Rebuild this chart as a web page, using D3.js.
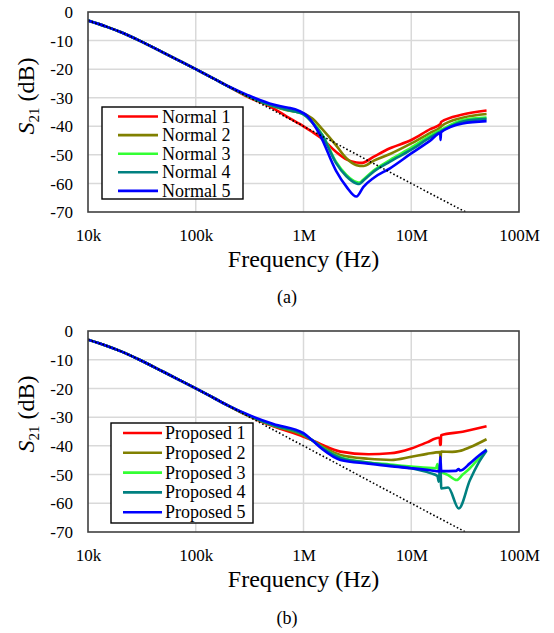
<!DOCTYPE html>
<html>
<head>
<meta charset="utf-8">
<script src="https://cdn.jsdelivr.net/npm/d3@7"></script>
<style>
  html, body { margin: 0; padding: 0; background: #fff; }
</style>
</head>
<body>
<svg id="chart" width="554" height="633"></svg>
<script>
// ---------- DATA (frequency in Hz, S21 in dB) ----------
const xTickValues = [1e4, 1e5, 1e6, 1e7, 1e8];
const xTickLabels = ["10k", "100k", "1M", "10M", "100M"];
const yTickValues = [0, -10, -20, -30, -40, -50, -60, -70];

// shared low-frequency part (all curves overlap here)
const commonLow = [[1e4,-3],[1.5e4,-5.2],[2e4,-7],[3e4,-10],[5e4,-14.2],[7e4,-17],[1e5,-20],[1.5e5,-23.5],[2e5,-26]];

// dotted reference line
const refLine = [[1e4,-3],[2e4,-7],[3e4,-10],[5e4,-14.2],[1e5,-20],[2e5,-26],[5e5,-34],[1e6,-40],[2e6,-46],[5e6,-54],[1e7,-60],[2e7,-66],[3.2e7,-70]];

// (a) Normal
const normalNames = ["Normal 1", "Normal 2", "Normal 3", "Normal 4", "Normal 5"];
const normal1 = [[3e5,-29.6],[5.25e5,-33.7],[7e5,-36.6],[1e6,-40],[1.2e6,-41.9],[1.5e6,-44.5],[2e6,-48.9],[2.5e6,-51.6],[3.1e6,-52.7],[3.5e6,-52.8],[4.5e6,-50.6],[6.35e6,-47.7],[1e7,-44.8],[1.5e7,-41],[1.87e7,-39.2],[1.89e7,-38.5],[3e7,-35.9],[5e7,-34.5]];
const normal2 = [[3e5,-29.4],[5.25e5,-33.0],[7e5,-34.4],[1e6,-35.5],[1.2e6,-37.2],[1.5e6,-41.1],[2e6,-46.6],[2.5e6,-51.2],[3.1e6,-53.6],[3.6e6,-53.9],[4.5e6,-52],[6.35e6,-49.7],[1e7,-46],[1.5e7,-42.3],[1.88e7,-40.2],[1.9e7,-40],[3e7,-37],[5e7,-35.7]];
const normal3 = [[3e5,-29.3],[5.25e5,-32.9],[7e5,-34.2],[1e6,-35.8],[1.2e6,-38.4],[1.5e6,-43],[2e6,-52.4],[2.5e6,-57],[3.1e6,-59.5],[3.3e6,-59.7],[3.6e6,-58.6],[4.5e6,-55.4],[6.35e6,-51.8],[1e7,-47.5],[1.5e7,-43.3],[1.88e7,-41.3],[3e7,-37.8],[5e7,-36.9]];
const normal4 = [[3e5,-29.3],[5.25e5,-32.9],[7e5,-34.2],[1e6,-35.8],[1.2e6,-38.6],[1.5e6,-43.3],[2e6,-52.8],[2.5e6,-57.5],[3.1e6,-60],[3.3e6,-60.2],[3.6e6,-59],[4.5e6,-55.8],[6.35e6,-52.4],[1e7,-48.2],[1.5e7,-43.9],[1.88e7,-41.8],[3e7,-38.3],[5e7,-37.4]];
const normal5 = [[3e5,-29.0],[5.25e5,-32.4],[7e5,-33.4],[9e5,-34.5],[1.1e6,-36.6],[1.42e6,-43],[2e6,-55.5],[2.5e6,-61.1],[3.1e6,-64.6],[3.6e6,-61.2],[4.5e6,-58],[6.35e6,-54.7],[1e7,-49.5],[1.5e7,-45],[1.86e7,-42.4],[1.87e7,-44.8],[1.89e7,-42.1],[3e7,-39],[5e7,-38.2]];

// (b) Proposed
const proposedNames = ["Proposed 1", "Proposed 2", "Proposed 3", "Proposed 4", "Proposed 5"];
const proposed1 = [[3e5,-29.4],[5.25e5,-33.2],[1e6,-36.8],[1.2e6,-38],[1.5e6,-39.7],[2.2e6,-42],[4e6,-42.9],[6.35e6,-42.6],[1e7,-40.9],[1.4e7,-38.8],[1.8e7,-37.2],[1.84e7,-37.4],[1.85e7,-39.7],[1.88e7,-39.5],[1.89e7,-36.3],[3e7,-35.1],[5e7,-33.2]];
const proposed2 = [[3e5,-29.3],[5.25e5,-33],[1e6,-36.3],[1.2e6,-38],[1.5e6,-40.3],[2.2e6,-43.2],[4e6,-44.5],[6.5e6,-44.9],[1e7,-43.8],[1.4e7,-42.8],[1.85e7,-42.2],[1.87e7,-45.5],[1.89e7,-42],[2.4e7,-42.1],[2.8e7,-41.8],[3.5e7,-40.5],[5e7,-37.7]];
const proposed3 = [[3e5,-29.2],[5.25e5,-32.8],[1e6,-36],[1.2e6,-38],[1.5e6,-40.7],[2.2e6,-44],[4e6,-45.8],[6.35e6,-46.5],[1e7,-47.2],[1.7e7,-47.8],[1.75e7,-46.3],[1.78e7,-48],[1.9e7,-49],[2.2e7,-50.2],[2.64e7,-51.9],[3e7,-50],[3.5e7,-47.8],[4.2e7,-44.5],[5e7,-41.2]];
const proposed4 = [[3e5,-29.2],[5.25e5,-32.8],[1e6,-36],[1.2e6,-38],[1.5e6,-40.8],[2.2e6,-44.2],[4e6,-45.9],[6.35e6,-46.8],[1e7,-47.8],[1.5e7,-49.5],[1.75e7,-50.5],[1.8e7,-52.5],[1.86e7,-46],[1.9e7,-54.8],[2.2e7,-54.5],[2.76e7,-61.8],[3.5e7,-52],[4.2e7,-46],[5e7,-41.7]];
const proposed5 = [[3e5,-29.0],[5.25e5,-32.4],[1e6,-35.6],[1.2e6,-38],[1.5e6,-41.2],[2.2e6,-44.9],[4e6,-46.2],[6.35e6,-47.1],[1e7,-47.8],[1.5e7,-48.5],[1.83e7,-48.9],[1.86e7,-43.8],[1.9e7,-48.8],[2.6e7,-48.7],[2.75e7,-48.1],[2.85e7,-48.6],[3.5e7,-46.1],[4.2e7,-43.5],[5e7,-41.4]];

const seriesColors = ["#ff0000", "#808000", "#33ff33", "#008080", "#0000ff"];
const FONT = "Liberation Serif";

// ---------- DRAW ----------
const svg = d3.select("#chart").attr("font-family", FONT);
svg.append("rect").attr("width", 554).attr("height", 633).attr("fill", "#fff");

const plotLeft = 88, plotRight = 519;

function drawPanel(opts) {
  const { top, height, series, names, legend, caption, captionText, titleY } = opts;
  const x = d3.scaleLog().domain([1e4, 1e8]).range([plotLeft, plotRight]);
  const y = d3.scaleLinear().domain([-70, 0]).range([top + height, top]);
  const g = svg.append("g").attr("font-family", FONT);

  // grid
  g.append("g").selectAll("line").data(xTickValues.slice(1, -1)).join("line")
    .attr("x1", d => x(d)).attr("x2", d => x(d))
    .attr("y1", top).attr("y2", top + height)
    .attr("stroke", "#d9d9d9").attr("stroke-width", 1.5);
  g.append("g").selectAll("line").data(yTickValues.slice(1, -1)).join("line")
    .attr("x1", plotLeft).attr("x2", plotRight)
    .attr("y1", d => y(d)).attr("y2", d => y(d))
    .attr("stroke", "#d9d9d9").attr("stroke-width", 1.5);

  // axes (labels only, no tick marks)
  const xAxis = d3.axisBottom(x).tickValues(xTickValues)
    .tickFormat((d, i) => xTickLabels[i]).tickSize(0).tickPadding(0);
  const gx = g.append("g").attr("transform", `translate(0,${top + height})`).call(xAxis)
    .attr("font-family", FONT).attr("font-size", 17);
  gx.select(".domain").remove();
  gx.selectAll("text").attr("font-family", FONT).attr("font-size", 17)
    .attr("fill", "#000").attr("dy", null).attr("y", 29);

  const yAxis = d3.axisLeft(y).tickValues(yTickValues).tickFormat(d => d === 0 ? "0" : "-" + Math.abs(d))
    .tickSize(0).tickPadding(0);
  const gy = g.append("g").attr("transform", `translate(${plotLeft},0)`).call(yAxis)
    .attr("font-family", FONT).attr("font-size", 17);
  gy.select(".domain").remove();
  gy.selectAll("text").attr("font-family", FONT).attr("font-size", 17)
    .attr("fill", "#000").attr("x", -15).attr("dy", "0.33em");

  // clip
  const clipId = "clip" + top;
  svg.append("clipPath").attr("id", clipId).append("rect")
    .attr("x", plotLeft).attr("y", top).attr("width", plotRight - plotLeft).attr("height", height);

  const line = d3.line().x(d => x(d[0])).y(d => y(d[1])).curve(d3.curveMonotoneX);
  const lines = g.append("g").attr("clip-path", `url(#${clipId})`);
  series.forEach((s, i) => {
    lines.append("path").datum(commonLow.concat(s))
      .attr("fill", "none").attr("stroke", seriesColors[i])
      .attr("stroke-width", 2.6).attr("stroke-linejoin", "round").attr("d", line);
  });
  lines.append("path").datum(refLine)
    .attr("fill", "none").attr("stroke", "#000").attr("stroke-width", 1.6)
    .attr("stroke-dasharray", "1.6,2.2").attr("d", line);

  // frame
  g.append("rect").attr("x", plotLeft).attr("y", top)
    .attr("width", plotRight - plotLeft).attr("height", height)
    .attr("fill", "none").attr("stroke", "#404040").attr("stroke-width", 1.6);

  // legend
  const lg = g.append("g");
  lg.append("rect").attr("x", legend.x).attr("y", legend.y).attr("width", legend.w).attr("height", legend.h)
    .attr("fill", "#fff").attr("stroke", "#000").attr("stroke-width", 1.4);
  names.forEach((n, i) => {
    const cy = legend.y + legend.first + i * legend.step;
    lg.append("line").attr("x1", legend.x + legend.l1).attr("x2", legend.x + legend.l2)
      .attr("y1", cy).attr("y2", cy).attr("stroke", seriesColors[i]).attr("stroke-width", 2.6);
    lg.append("text").attr("x", legend.x + legend.tx).attr("y", cy + 6)
      .attr("font-family", FONT).attr("font-size", 18).attr("fill", "#000").text(n);
  });

  // axis titles
  g.append("text").attr("x", (plotLeft + plotRight) / 2).attr("y", top + height + 55)
    .attr("text-anchor", "middle").attr("font-family", FONT).attr("font-size", 24)
    .attr("fill", "#000").text("Frequency (Hz)");
  const yt = g.append("text").attr("transform", `translate(34,${titleY}) rotate(-90)`)
    .attr("text-anchor", "middle").attr("font-family", FONT).attr("font-size", 24).attr("fill", "#000");
  yt.append("tspan").attr("font-style", "italic").text("S");
  yt.append("tspan").attr("font-size", 15).attr("dy", 5).text("21");
  yt.append("tspan").attr("dy", -5).text(" (dB)");

  g.append("text").attr("x", 287).attr("y", caption).attr("text-anchor", "middle")
    .attr("font-family", FONT).attr("font-size", 18).attr("fill", "#000").text(captionText);
}

drawPanel({
  top: 12, height: 200,
  series: [normal1, normal2, normal3, normal4, normal5],
  names: normalNames,
  legend: { x: 102, y: 107, w: 141, h: 92, first: 9.5, step: 18.6, l1: 16, l2: 56, tx: 60 },
  caption: 303, captionText: "(a)", titleY: 96
});
drawPanel({
  top: 331, height: 201,
  series: [proposed1, proposed2, proposed3, proposed4, proposed5],
  names: proposedNames,
  legend: { x: 111, y: 423, w: 142, h: 100, first: 10, step: 19.8, l1: 12, l2: 51, tx: 54 },
  caption: 624, captionText: "(b)", titleY: 414
});
</script>
</body>
</html>
